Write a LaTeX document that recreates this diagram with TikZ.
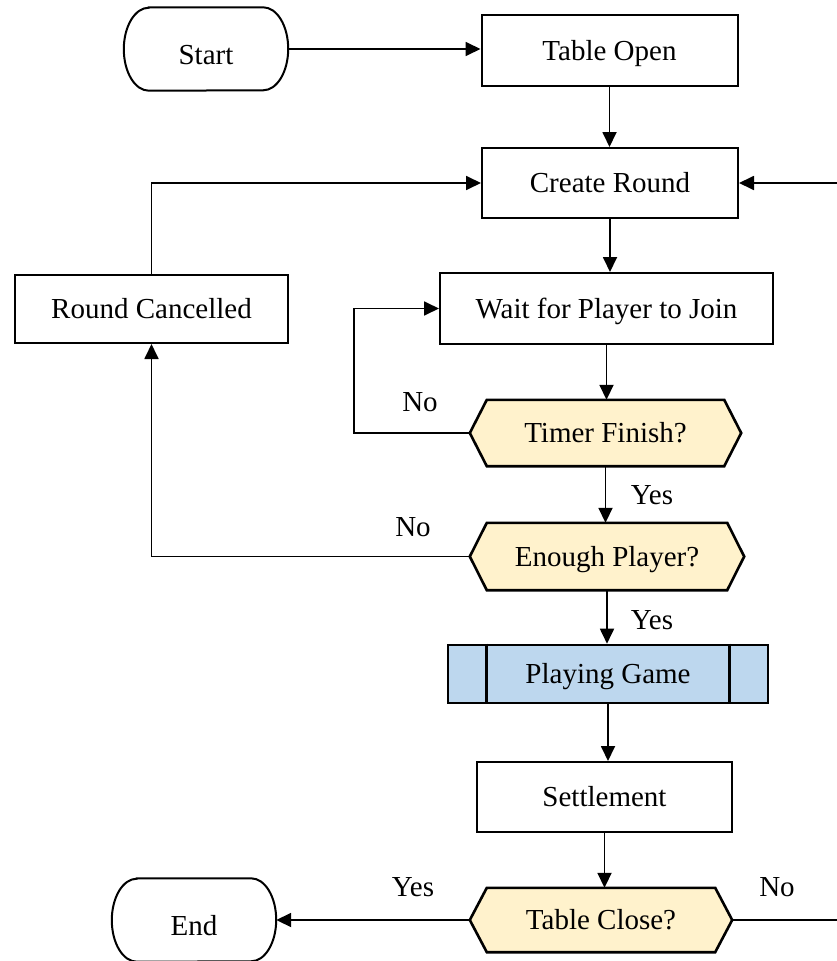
\documentclass[tikz,border=0pt]{standalone}
\usepackage{fontspec}
\setmainfont{Liberation Serif}
\usetikzlibrary{arrows.meta,calc}
\pgfdeclarelayer{background}
\pgfsetlayers{background,main}
\definecolor{hexfill}{HTML}{FFF2CC}
\definecolor{playfill}{HTML}{BDD7EE}
\newcommand\termoutline[1]{\draw[outline] ([xshift=25pt]#1.north west) -- ([xshift=-25pt]#1.north east) arc[start angle=90,end angle=-90,x radius=25pt,y radius=41.5pt] -- ([xshift=25pt]#1.south west) arc[start angle=270,end angle=90,x radius=25pt,y radius=41.5pt] -- cycle;}
\newcommand\hexoutline[1]{\draw[hexline] (#1.west) -- ([xshift=17pt]#1.north west) -- ([xshift=-17pt]#1.north east) -- (#1.east) -- ([xshift=-17pt]#1.south east) -- ([xshift=17pt]#1.south west) -- cycle;}
\begin{document}
\begin{tikzpicture}[x=1pt,y=-1pt,
 every node/.style={font=\fontsize{29}{34}\selectfont,text height=25.8pt,text depth=6.3pt},
 proc/.style={draw,line width=2pt,inner sep=0pt},
 ghost/.style={inner sep=0pt},
 termtext/.style={text height=31pt,text depth=0pt},
 arr/.style={line width=1.8pt,-{Triangle[length=15pt,width=14pt]}},
 outline/.style={line width=2pt},
 hexline/.style={line width=2.6pt,fill=hexfill,line join=miter},
 lbl/.style={inner sep=0pt}]
\useasboundingbox (0,0) rectangle (836,961);
% nodes
\node[ghost,termtext,minimum width=164pt,minimum height=83pt] (start) at (206,49) {Start};
\node[proc,minimum width=256pt,minimum height=71pt] (open) at (609.5,50.5) {Table Open};
\node[proc,minimum width=256pt,minimum height=70pt] (create) at (610,183) {Create Round};
\node[proc,minimum width=273pt,minimum height=68pt] (cancel) at (151.5,309) {Round Cancelled};
\node[proc,minimum width=333pt,minimum height=71pt] (wait) at (606.5,308.5) {Wait for Player to Join};
\node[ghost,minimum width=271pt,minimum height=66pt] (timer) at (605.5,433) {Timer Finish?};
\node[ghost,minimum width=274pt,minimum height=67pt] (enough) at (607,556.5) {Enough Player?};
\node[draw,line width=2.6pt,fill=playfill,inner sep=0pt,minimum width=320pt,minimum height=58pt] (play) at (608,674) {Playing Game};
\node[proc,minimum width=255pt,minimum height=70pt] (settle) at (604.5,797) {Settlement};
\node[ghost,minimum width=262pt,minimum height=64pt] (close) at (601,920) {Table Close?};
\node[ghost,termtext,minimum width=164pt,minimum height=83pt] (end) at (194,920) {End};
% outlines
\begin{pgfonlayer}{background}
\termoutline{start}
\termoutline{end}
\hexoutline{timer}
\hexoutline{enough}
\hexoutline{close}
\end{pgfonlayer}
\draw[line width=2.6pt] ([xshift=40pt]play.north west) -- ([xshift=40pt]play.south west);
\draw[line width=2.6pt] ([xshift=-40pt]play.north east) -- ([xshift=-40pt]play.south east);
% labels
\node[lbl] (l1) at (420,402) {No};
\node[lbl] (l2) at (652,495) {Yes};
\node[lbl] (l3) at (413,527) {No};
\node[lbl] (l4) at (652,620) {Yes};
\node[lbl] (l5) at (413,887) {Yes};
\node[lbl] (l6) at (777,887) {No};
% helper coordinates
\coordinate (lx) at (354,0);
\coordinate (rx) at (860,0);
% connectors
\draw[arr] (start.east) -- (open.west |- start.east);
\draw[arr] (open.south) -- (open.south |- create.north);
\draw[arr] (create.south) -- (create.south |- wait.north);
\draw[arr] (wait.south) -- (wait.south |- timer.north);
\draw[arr] (timer.south) -- (timer.south |- enough.north);
\draw[arr] (enough.south) -- (enough.south |- play.north);
\draw[arr] (play.south) -- (play.south |- settle.north);
\draw[arr] (settle.south) -- (settle.south |- close.north);
\draw[arr] (cancel.north) |- (create.west);
\draw[arr] (timer.west) -- (lx |- timer.west) |- (wait.west);
\draw[arr] (enough.west) -| (cancel.south);
\draw[arr] (close.west) -- (end.east);
\draw[arr] (close.east) -- (rx |- close.east) |- (create.east);
\end{tikzpicture}
\end{document}
